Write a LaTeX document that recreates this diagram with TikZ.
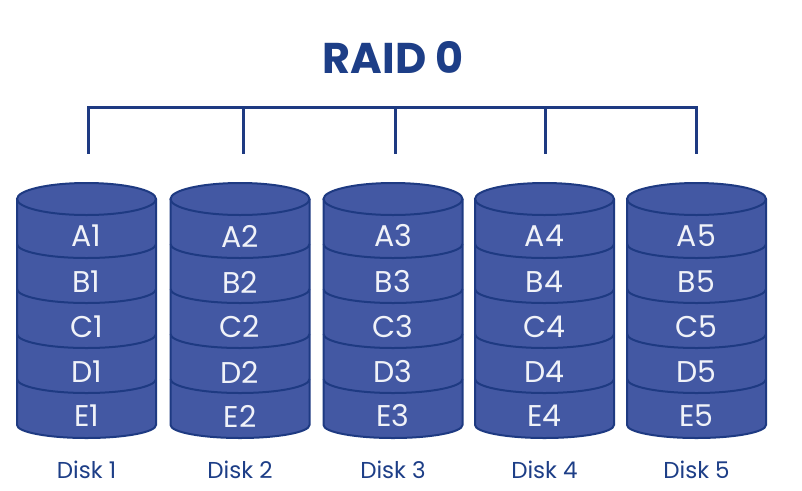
\documentclass[tikz,border=0pt]{standalone}
\usepackage{fontspec}
\setmainfont{Poppins}
\definecolor{diskfill}{HTML}{4358A3}
\definecolor{diskline}{HTML}{1E3A82}
\definecolor{titleblue}{HTML}{1D3E87}
\definecolor{celltext}{HTML}{F0F2F8}
\tikzset{
  cell/.style={text=celltext,font=\fontsize{30}{30}\selectfont,inner sep=0pt,anchor=center},
  disklabel/.style={text=titleblue,font=\fontsize{23}{23}\selectfont,inner sep=0pt},
  title/.style={text=titleblue,font=\fontsize{43}{43}\selectfont\bfseries,inner sep=0pt},
  outline/.style={draw=diskline,line width=2pt},
  bracket/.style={draw=diskline,line width=3pt},
}
\begin{document}
\begin{tikzpicture}[x=1pt,y=1pt]
\useasboundingbox[fill=white] (0,0) rectangle (802,-490);
\node[title] (title) at (393,-57) {RAID 0};
\foreach \i/\cx/\bx in {1/86.5/88,2/240/243,3/393/395,4/544.5/545,5/696.5/696} {
  \fill[diskfill] (\cx-69.5,-199) -- (\cx-69.5,-425)
     arc[start angle=180,end angle=360,x radius=69.5pt,y radius=13pt]
     -- (\cx+69.5,-199)
     arc[start angle=0,end angle=180,x radius=69.5pt,y radius=16pt] -- cycle;
  \draw[outline] (\cx,-199) ellipse[x radius=69.5pt,y radius=16pt];
  \draw[outline] (\cx-69.5,-199) -- (\cx-69.5,-425)
     arc[start angle=180,end angle=360,x radius=69.5pt,y radius=13pt]
     -- (\cx+69.5,-199);
  \foreach \yy in {244,289,334,379} {
    \draw[outline] (\cx-69.5,-\yy)
      arc[start angle=180,end angle=360,x radius=69.5pt,y radius=14pt];
  }
  \node[cell] (A\i) at (\cx,-236) {A\i};
  \node[cell] (B\i) at (\cx,-282) {B\i};
  \node[cell] (C\i) at (\cx,-327) {C\i};
  \node[cell] (D\i) at (\cx,-372) {D\i};
  \node[cell] (E\i) at (\cx,-416) {E\i};
  \node[disklabel] (L\i) at (\cx,-470) {Disk \i};
  \coordinate (top\i) at (\bx,-107);
  \coordinate (drop\i) at (\bx,-154);
  \draw[bracket] (top\i) -- (drop\i);
}
\draw[bracket,line cap=rect] (top1) -- (top5);
\end{tikzpicture}
\end{document}
